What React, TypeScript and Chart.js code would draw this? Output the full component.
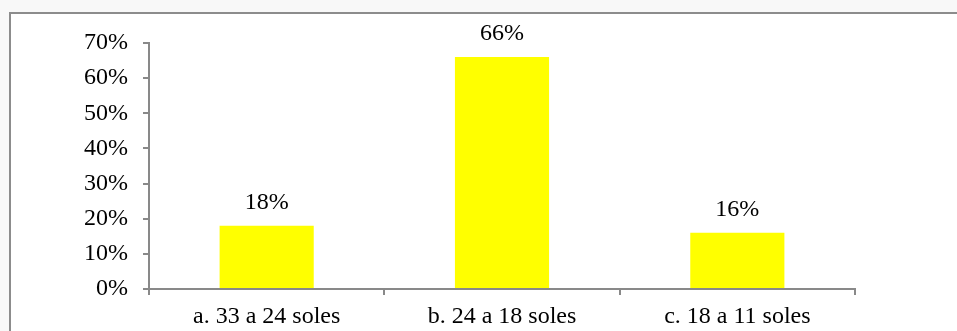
import React, { useEffect, useRef } from "react";
import { Chart, registerables } from "chart.js";

Chart.register(...registerables);

const categories = ["a. 33 a 24 soles", "b. 24 a 18 soles", "c. 18 a 11 soles"];
const percentages = [18, 66, 16];
const yTicks = [0, 10, 20, 30, 40, 50, 60, 70];

const FONT = "'Liberation Serif', 'Times New Roman', serif";
const AXIS_GRAY = "#898989";

// Light page backdrop with a white framed panel behind the plot
const framePlugin = {
  id: "frame",
  beforeDraw(chart: any) {
    const { ctx, width, height } = chart;
    ctx.save();
    ctx.fillStyle = "#f8f8f8";
    ctx.fillRect(0, 0, width, height);
    ctx.fillStyle = "#ffffff";
    ctx.fillRect(10, 13, width - 10, height - 13);
    ctx.strokeStyle = "#8c8c8c";
    ctx.lineWidth = 2;
    ctx.beginPath();
    ctx.moveTo(10, height);
    ctx.lineTo(10, 13);
    ctx.lineTo(width, 13);
    ctx.stroke();
    ctx.restore();
  },
};

// Percentage labels centred above each bar
const valueLabelPlugin = {
  id: "valueLabels",
  afterDatasetsDraw(chart: any) {
    const { ctx } = chart;
    const meta = chart.getDatasetMeta(0);
    ctx.save();
    ctx.font = `24px ${FONT}`;
    ctx.fillStyle = "#000000";
    ctx.textAlign = "center";
    ctx.textBaseline = "middle";
    meta.data.forEach((bar: any, i: number) => {
      ctx.fillText(`${percentages[i]}%`, bar.x, bar.y - 23);
    });
    ctx.restore();
  },
};

export default function App() {
  const canvasRef = useRef<HTMLCanvasElement | null>(null);

  useEffect(() => {
    if (!canvasRef.current) return;
    const chart = new Chart(canvasRef.current, {
      type: "bar",
      data: {
        labels: categories,
        datasets: [
          {
            data: percentages,
            backgroundColor: "#ffff00",
            borderWidth: 0,
            barPercentage: 0.4,
            categoryPercentage: 1,
          },
        ],
      },
      options: {
        animation: false,
        responsive: false,
        maintainAspectRatio: false,
        layout: { padding: { left: 0, top: 43, right: 102, bottom: 0 } },
        plugins: {
          legend: { display: false },
          tooltip: { enabled: false },
        },
        scales: {
          x: {
            offset: true,
            grid: {
              offset: true,
              drawOnChartArea: false,
              drawTicks: true,
              tickLength: 6,
              color: AXIS_GRAY,
              lineWidth: 2,
            },
            border: { color: AXIS_GRAY, width: 2 },
            ticks: {
              color: "#000000",
              font: { family: FONT, size: 24 },
              padding: 7,
              maxRotation: 0,
              autoSkip: false,
            },
            afterFit(scale: any) {
              scale.height = 42;
            },
          },
          y: {
            min: 0,
            max: 70,
            afterBuildTicks(scale: any) {
              scale.ticks = yTicks.map((v) => ({ value: v }));
            },
            grid: {
              drawOnChartArea: false,
              drawTicks: true,
              tickLength: 6,
              color: AXIS_GRAY,
              lineWidth: 2,
            },
            border: { color: AXIS_GRAY, width: 2 },
            ticks: {
              color: "#000000",
              font: { family: FONT, size: 24 },
              padding: 15,
              callback: (v: any) => `${v}%`,
            },
            afterFit(scale: any) {
              scale.width = 149;
            },
          },
        },
      },
      plugins: [framePlugin, valueLabelPlugin],
    });
    return () => chart.destroy();
  }, []);

  return (
    <div style={{ position: "fixed", left: 0, top: 0, width: 957, height: 331 }}>
      <canvas ref={canvasRef} width={957} height={331} style={{ display: "block" }} />
    </div>
  );
}
